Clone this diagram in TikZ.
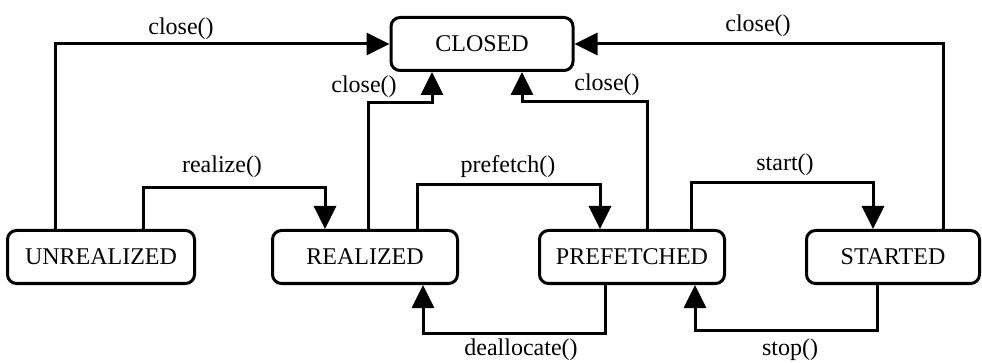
\documentclass[tikz,border=0pt]{standalone}
\usepackage{fontspec}
\setmainfont{Liberation Serif}
\usetikzlibrary{arrows.meta,positioning}

\begin{document}
\begin{tikzpicture}[
        x=1pt, y=-1pt,
        font=\fontsize{24}{28}\selectfont,
        state/.style={draw, line width=3pt, rounded corners=9pt, minimum height=53pt, inner sep=0pt},
        trans/.style={line width=3pt, -{Triangle[length=23pt,width=22pt]}},
        lbl/.style={inner sep=0pt}
    ]
        \useasboundingbox (0,0) rectangle (982,363);

% --- States ---
        \node[state, minimum width=182pt] (closed)     at (482,44)  {CLOSED};
        \node[state, minimum width=187pt] (unrealized) at (101,257) {UNREALIZED};
        \node[state, minimum width=185pt] (realized)   at (365,257) {REALIZED};
        \node[state, minimum width=185pt] (prefetched) at (632,257) {PREFETCHED};
        \node[state, minimum width=173pt] (started)    at (893,257) {STARTED};

% --- close() from every state ---
        \draw[trans] ([xshift=-46pt]unrealized.north) |- (closed.west);
        \draw[trans] ([xshift=3pt]realized.north) -- ++(0,-126) -| ([xshift=-50pt]closed.south);
        \draw[trans] ([xshift=15pt]prefetched.north) -- ++(0,-127) -| ([xshift=40pt]closed.south);
        \draw[trans] ([xshift=50pt]started.north) |- (closed.east);

% --- Forward transitions (above the row) ---
        \draw[trans] ([xshift=42pt]unrealized.north) -- ++(0,-41) -| ([xshift=-40pt]realized.north);
        \draw[trans] ([xshift=52pt]realized.north) -- ++(0,-44) -| ([xshift=-32pt]prefetched.north);
        \draw[trans] ([xshift=59pt]prefetched.north) -- ++(0,-46) -| ([xshift=-20pt]started.north);

% --- Backward transitions (below the row) ---
        \draw[trans] ([xshift=-27pt]prefetched.south) -- ++(0,48) -| ([xshift=58pt]realized.south);
        \draw[trans] ([xshift=-16pt]started.south) -- ++(0,45) -| ([xshift=63pt]prefetched.south);

% --- Labels ---
        \node[lbl] (l-close-u) at (181,29)  {close()};
        \node[lbl] (l-close-r) at (364,87)  {close()};
        \node[lbl] (l-close-p) at (607,85)  {close()};
        \node[lbl] (l-close-s) at (758,26)  {close()};
        \node[lbl] (l-realize)  at (222,167) {realize()};
        \node[lbl] (l-prefetch) at (508,167) {prefetch()};
        \node[lbl] (l-start)    at (785,165) {start()};
        \node[lbl] (l-dealloc)  at (521,350) {deallocate()};
        \node[lbl] (l-stop)     at (790,350) {stop()};

    \end{tikzpicture}
\end{document}
